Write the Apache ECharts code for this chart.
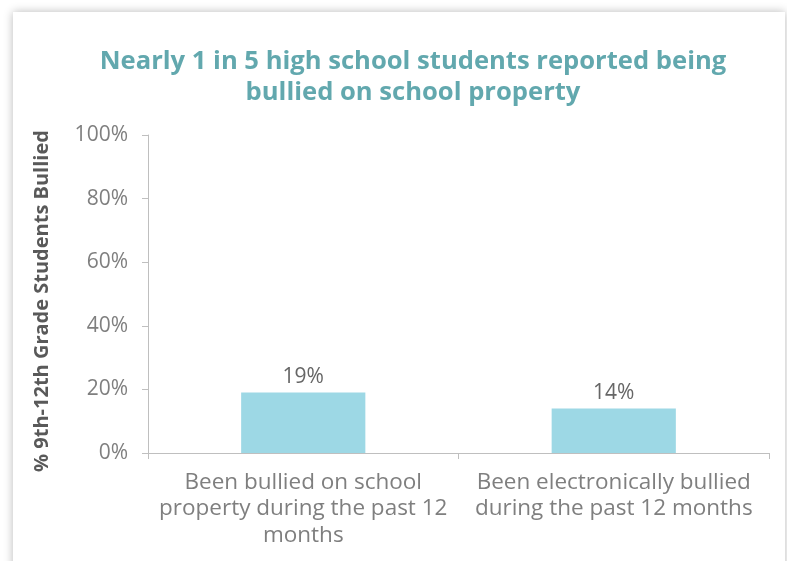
<!DOCTYPE html>
<html>
<head>
<meta charset="utf-8">
<script src="https://cdn.jsdelivr.net/npm/echarts@6/dist/echarts.min.js"></script>
<style>
html,body{margin:0;padding:0;background:#ffffff;width:787px;height:561px;overflow:hidden;}
#card{position:absolute;left:13px;top:12px;width:772px;height:620px;background:#fff;box-shadow:0 0 9px rgba(0,0,0,0.28);}
#chart{position:absolute;left:0;top:0;width:787px;height:561px;}
</style>
</head>
<body>
<div id="card"></div>
<div id="chart"></div>
<script>
const titleText = "Nearly 1 in 5 high school students reported being\nbullied on school property";
const yAxisName = "% 9th-12th Grade Students Bullied";
const categories = [
  "Been bullied on school\nproperty during the past 12\nmonths",
  "Been electronically bullied\nduring the past 12 months"
];
const values = [19, 14];
const yTicks = [0, 20, 40, 60, 80, 100];

const FONT = "'Open Sans', Lato, sans-serif";
const chart = echarts.init(document.getElementById('chart'), null, {renderer: 'canvas'});
chart.setOption({
  backgroundColor: 'transparent',
  animation: false,
  title: {
    text: titleText,
    left: 408, top: 41, textAlign: 'center',
    textStyle: {color: '#62a8ae', fontFamily: FONT, fontSize: 25.6, fontWeight: 'bold', lineHeight: 31}
  },
  grid: {left: 148, right: 18, top: 135, bottom: 108, containLabel: false},
  xAxis: {
    type: 'category',
    data: categories,
    axisLine: {lineStyle: {color: '#bfbfbf', width: 1}},
    axisTick: {show: true, alignWithLabel: false, length: 6, lineStyle: {color: '#bfbfbf'}},
    axisLabel: {color: '#7f7f7f', fontFamily: FONT, fontSize: 22.5, lineHeight: 26.5, margin: 16, interval: 0}
  },
  yAxis: {
    type: 'value',
    min: yTicks[0], max: yTicks[yTicks.length - 1], interval: 20,
    name: yAxisName,
    nameLocation: 'middle',
    nameGap: 96,
    nameRotate: 90,
    nameTextStyle: {color: '#595959', fontFamily: FONT, fontSize: 20, fontWeight: 'bold', padding: [0, 14, 0, 0]},
    axisLine: {show: true, lineStyle: {color: '#bfbfbf', width: 1}},
    axisTick: {show: true, length: 6, lineStyle: {color: '#bfbfbf'}},
    splitLine: {show: false},
    axisLabel: {color: '#7f7f7f', fontFamily: FONT, fontSize: 21, margin: 20, formatter: v => v + '%'}
  },
  series: [{
    type: 'bar',
    data: values,
    barWidth: '40%',
    itemStyle: {color: '#9dd8e5'},
    label: {show: true, position: 'top', distance: 5, color: '#666666', fontFamily: FONT, fontSize: 21, formatter: p => p.value + '%'}
  }]
});
</script>
</body>
</html>
